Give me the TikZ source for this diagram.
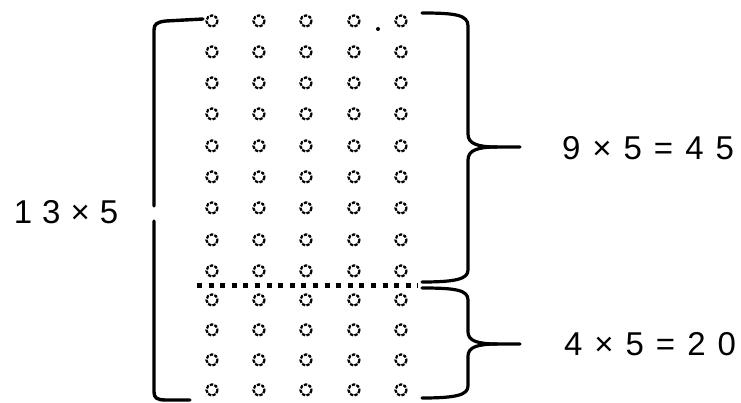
\documentclass[tikz,border=0pt]{standalone}
\usepackage{fontspec}
\newfontfamily\labfont{Liberation Sans}
\tikzset{
  x=1pt, y=-1pt,
  bracket/.style={line width=3.4pt, line cap=round, line join=round},
  bracestyle/.style={line width=3.2pt, line cap=round, line join=round},
  dotc/.style={line width=2.2pt, dash pattern=on 3.4pt off 1.3pt},
  lab/.style={inner sep=0pt, font=\labfont\fontsize{33}{38}\selectfont},
  sep/.style={line width=5pt, dash pattern=on 5pt off 6.6pt}
}
\begin{document}
\begin{tikzpicture}
\useasboundingbox (0,0) rectangle (741,403);
% dots
\foreach \y in {21,52,83,114,146,177,208,240,271,300,330,360,390}{
  \foreach \x in {212,259,306,354,401}{
    \draw[dotc] (\x,\y) circle (5.6);
  }
}
\fill (378,29) circle (2);
% separating dotted line
\draw[sep] (197,285) -- (418,285);
% left bracket
\draw[bracket] (203,19) -- (166,21) .. controls (157,22) and (154,24) .. (154,30) -- (154,206);
\draw[bracket] (154,221) -- (154,392) .. controls (154,398) and (157,400) .. (166,400) -- (190,400);
% upper brace
\draw[bracestyle] (422,13) .. controls (456,13) and (468,15) .. (468,26) -- (468,134)
  .. controls (468,144) and (478,147) .. (497,147) -- (520,147);
\draw[bracestyle] (497,147) .. controls (478,147) and (468,150) .. (468,160) -- (468,270)
  .. controls (468,279) and (456,282) .. (422,282);
% lower brace
\draw[bracestyle] (422,288) .. controls (456,288) and (468,290) .. (468,300) -- (468,332)
  .. controls (468,341) and (478,344) .. (497,344) -- (520,344);
\draw[bracestyle] (497,344) .. controls (478,344) and (468,347) .. (468,356) -- (468,386)
  .. controls (468,395) and (456,398) .. (422,398);
% labels
\node[lab] (total) at (66,212) {1\hspace{10pt}3\hspace{10pt}×\hspace{10pt}5};
\node[lab] (upper) at (648,148) {9\hspace{12pt}×\hspace{12pt}5\hspace{12pt}=\hspace{12pt}4\hspace{12pt}5};
\node[lab] (lower) at (650,344) {4\hspace{12pt}×\hspace{12pt}5\hspace{12pt}=\hspace{12pt}2\hspace{12pt}0};
\end{tikzpicture}
\end{document}
